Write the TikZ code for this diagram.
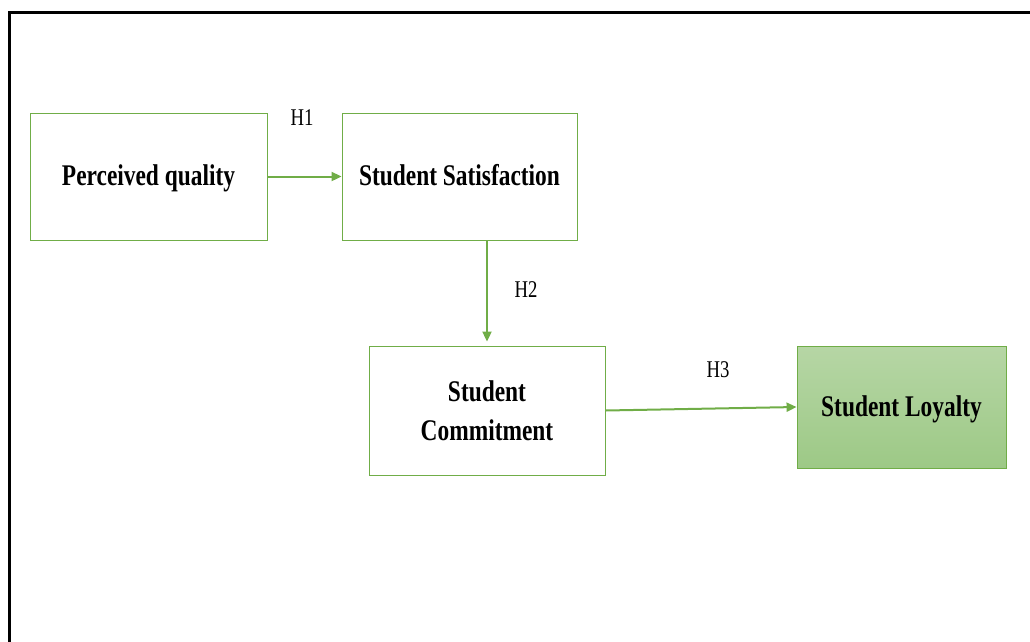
\documentclass[tikz,border=0pt]{standalone}
\usepackage{fontspec}
\setmainfont{Liberation Serif}[FakeStretch=0.78]
\usepackage{tikz}
\usetikzlibrary{positioning}
\usetikzlibrary{arrows.meta}

\definecolor{boxgreen}{HTML}{70AD47}
\definecolor{filltop}{HTML}{B6D6A5}
\definecolor{fillbot}{HTML}{9DC986}

\tikzset{
	construct/.style={draw=boxgreen,line width=0.9pt,inner sep=0pt,align=center,
		font=\fontsize{30}{39}\selectfont\bfseries},
	oneline/.style={text height=24pt,text depth=6pt},
	outcome/.style={construct,top color=filltop,bottom color=fillbot},
	link/.style={draw=boxgreen,line width=2pt,-{Triangle[length=10pt,width=9pt]}},
	hyp/.style={font=\fontsize{24}{28}\selectfont,inner sep=0pt}
}

\begin{document}
\begin{tikzpicture}[x=1pt,y=-1pt]
				\useasboundingbox (0,0) rectangle (1030,641);
				%Frame
				\draw[line width=3.6pt] (9.3,645) -- (9.3,12.5) -- (1034,12.5);

				%Nodes
				\node[construct,oneline,minimum width=237pt,minimum height=127pt] (quality) 	at 	(148.5,176.5) {Perceived quality};
				\node[construct,oneline,minimum width=235pt,minimum height=127pt] (satisfaction) 	at 	(459.5,176.5) {Student Satisfaction};
				\node[construct,minimum width=236pt,minimum height=129pt] (commitment) 	at 	(487,410.5) {Student\\Commitment};
				\node[outcome,oneline,minimum width=209pt,minimum height=122pt] (loyalty) 	at 	(901.5,407) {Student Loyalty};

				\node[hyp] (h1) 	at 	(302,118) {H1};
				\node[hyp] (h2) 	at 	(526,290) {H2};
				\node[hyp] (h3) 	at 	(718,370) {H3};

				%Lines
				\draw[link] (quality.east) -- (satisfaction.west);
				\draw[link,shorten >=4pt] (satisfaction.south -| commitment.north) -- (commitment.north);
				\draw[link] (commitment.east) -- (loyalty.west);
\end{tikzpicture}
\end{document}
